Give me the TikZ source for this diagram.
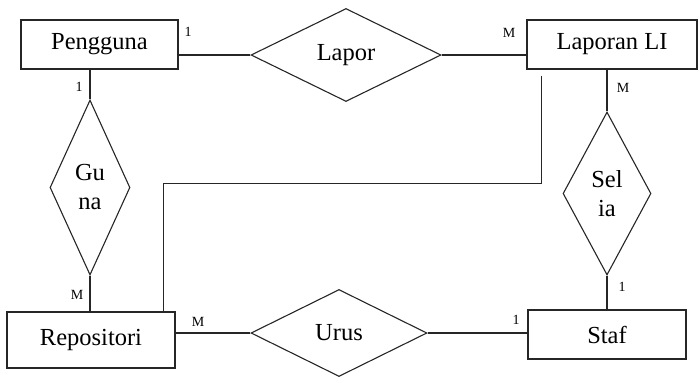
\documentclass[tikz,border=0pt]{standalone}
\usepackage{fontspec}
\setmainfont{Liberation Serif}
\usetikzlibrary{shapes.geometric}
\begin{document}
\begin{tikzpicture}[x=1pt,y=-1pt,line width=1.1pt,
  entity/.style={draw=black!85,rectangle,inner sep=0pt,font=\fontsize{24.5}{29}\selectfont},
  relation/.style={draw=black!85,diamond,inner sep=0pt},
  rellabel/.style={align=center,font=\fontsize{24.5}{29}\selectfont},
  link/.style={draw=black!85},
  card/.style={inner sep=0pt,font=\fontsize{14}{16}\selectfont}]
\useasboundingbox (0,0) rectangle (700,378);

% entities
\node[entity,minimum width=157pt,minimum height=49pt] (pengguna) at (99.5,44.5) {Pengguna};
\node[entity,minimum width=170pt,minimum height=49pt] (laporan) at (612,44.5) {Laporan LI};
\node[entity,minimum width=168pt,minimum height=56pt] (repo) at (91,340) {Repositori};
\node[entity,minimum width=158pt,minimum height=49pt] (staf) at (607,334.5) {Staf};

% relationships
\node[relation,minimum width=190pt,minimum height=93pt,
      label={[rellabel]center:Lapor}] (lapor) at (346,55) {};
\node[relation,minimum width=176pt,minimum height=87pt,
      label={[rellabel]center:Urus}] (urus) at (339,333) {};
\node[relation,minimum width=80pt,minimum height=175pt,
      label={[rellabel]center:Gu\\na}] (guna) at (90,187.5) {};
\node[relation,minimum width=88pt,minimum height=163pt,
      label={[rellabel]center:Sel\\ia}] (selia) at (607,193.5) {};

% connectors
\draw[link] (lapor.west -| pengguna.east) -- (lapor.west);
\draw[link] (lapor.east) -- (lapor.east -| laporan.west);
\draw[link] (guna.north |- pengguna.south) -- (guna.north);
\draw[link] (guna.south) -- (guna.south |- repo.north);
\draw[link] (selia.north |- laporan.south) -- (selia.north);
\draw[link] (selia.south) -- (selia.south |- staf.north);
\draw[link] (urus.west -| repo.east) -- (urus.west);
\draw[link] (urus.east) -- (urus.east -| staf.west);
\draw[link] ([xshift=15pt,yshift=-6pt]laporan.south west) -- ++(0,108)
      -| ([xshift=-12pt]repo.north east);

% cardinalities
\node[card] (c1) at (188,32) {1};
\node[card] (c2) at (509,33) {M};
\node[card] (c3) at (79,87) {1};
\node[card] (c4) at (77,295) {M};
\node[card] (c5) at (623,88) {M};
\node[card] (c6) at (622,287) {1};
\node[card] (c7) at (198,322) {M};
\node[card] (c8) at (516,320) {1};
\end{tikzpicture}
\end{document}
